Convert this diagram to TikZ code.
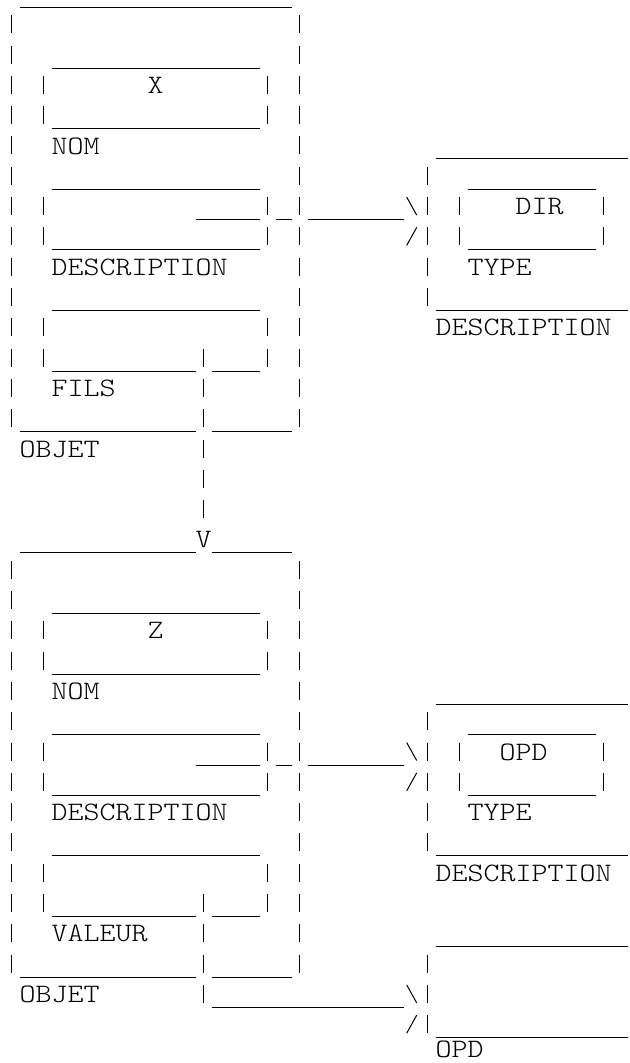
\documentclass[tikz,border=0pt]{standalone}
\usepackage{graphicx}
\tikzset{
  ln/.style={line width=0.5pt, black},
  lbl/.style={anchor=west, inner sep=0pt, outer sep=0pt,
              font=\ttfamily\fontseries{l}\fontsize{13.3}{14}\selectfont},
}
% grid: column c left edge 3.7+16c px, row n centre -5.5+30.3(n-1) px
\newcommand\ascU[3]{\draw[ln] ({3.7+16*(#2)},{7.5+30.3*(#1-1)}) -- ({3.7+16*(#3+1)},{7.5+30.3*(#1-1)});}
\newcommand\ascP[2]{\foreach \cc in {#2}{\draw[ln] ({11.7+16*\cc},{-15+30.3*(#1-1)}) -- ++(0,18);}}
\newcommand\ascB[2]{\draw[ln] ({6.7+16*(#2)},{-15+30.3*(#1-1)}) -- ++(10,18);}
\newcommand\ascS[2]{\draw[ln] ({6.7+16*(#2)},{3+30.3*(#1-1)}) -- ++(10,-18);}
\newcommand\ascT[4]{\node[lbl] (#1) at ({3.7+16*(#3)},{-5.5+30.3*(#2-1)}) {\scalebox{1.145}[1]{#4}};}
% one OBJET block: #1 row offset, #2 suffix, #3 name, #4 type, #5 type column, #6 lower field
\newcommand\ascBlock[6]{%
  \ascP{#1+2}{0,18}
  \ascP{#1+3}{0,18} \ascU{#1+3}{3}{15}
  \ascP{#1+4}{0,2,16,18}
  \ascP{#1+5}{0,2,16,18} \ascU{#1+5}{3}{15}
  \ascP{#1+6}{0,18} \ascU{#1+6}{27}{38}
  \ascP{#1+7}{0,18,26} \ascU{#1+7}{3}{15} \ascU{#1+7}{29}{36}
  \ascP{#1+8}{0,2,16,18,26,28,37} \ascU{#1+8}{12}{15} \ascU{#1+8}{17}{17} \ascU{#1+8}{19}{24} \ascB{#1+8}{25}
  \ascP{#1+9}{0,2,16,18,26,28,37} \ascU{#1+9}{3}{15} \ascU{#1+9}{29}{36} \ascS{#1+9}{25}
  \ascP{#1+10}{0,18,26}
  \ascP{#1+11}{0,18,26} \ascU{#1+11}{3}{15} \ascU{#1+11}{27}{38}
  \ascP{#1+12}{0,2,16,18}
  \ascP{#1+13}{0,2,12,16,18} \ascU{#1+13}{3}{11} \ascU{#1+13}{13}{15}
  \ascP{#1+14}{0,12,18}
  \ascP{#1+15}{0,12,18} \ascU{#1+15}{1}{11} \ascU{#1+15}{13}{17}
  \ascP{#1+16}{12}
  \ascT{name#2}{#1+4}{9}{#3}
  \ascT{nom#2}{#1+6}{3}{NOM}
  \ascT{type#2}{#1+8}{#5}{#4}
  \ascT{desc#2}{#1+10}{3}{DESCRIPTION}
  \ascT{typel#2}{#1+10}{29}{TYPE}
  \ascT{descr#2}{#1+12}{27}{DESCRIPTION}
  \ascT{low#2}{#1+14}{3}{#6}
  \ascT{objet#2}{#1+16}{1}{OBJET}
}
\begin{document}
\begin{tikzpicture}[x=0.5pt,y=-0.5pt]
\useasboundingbox (0,0) rectangle (630,1063);
% first object
\ascU{1}{1}{17}
\ascBlock{0}{a}{X}{DIR}{32}{FILS}
\ascP{17}{12}
\ascP{18}{12}
% second object
\ascU{19}{1}{11}
\ascT{arrowv}{19}{12}{V}
\ascU{19}{13}{17}
\ascBlock{18}{b}{Z}{OPD}{31}{VALEUR}
\ascU{32}{27}{38}
\ascP{33}{26}
\ascU{34}{13}{24} \ascB{34}{25} \ascP{34}{26}
\ascS{35}{25} \ascP{35}{26} \ascU{35}{27}{38}
\node[lbl] (opd) at ({3.7+16*27},1049.5) {\scalebox{1.145}[1]{OPD}};
\end{tikzpicture}
\end{document}
